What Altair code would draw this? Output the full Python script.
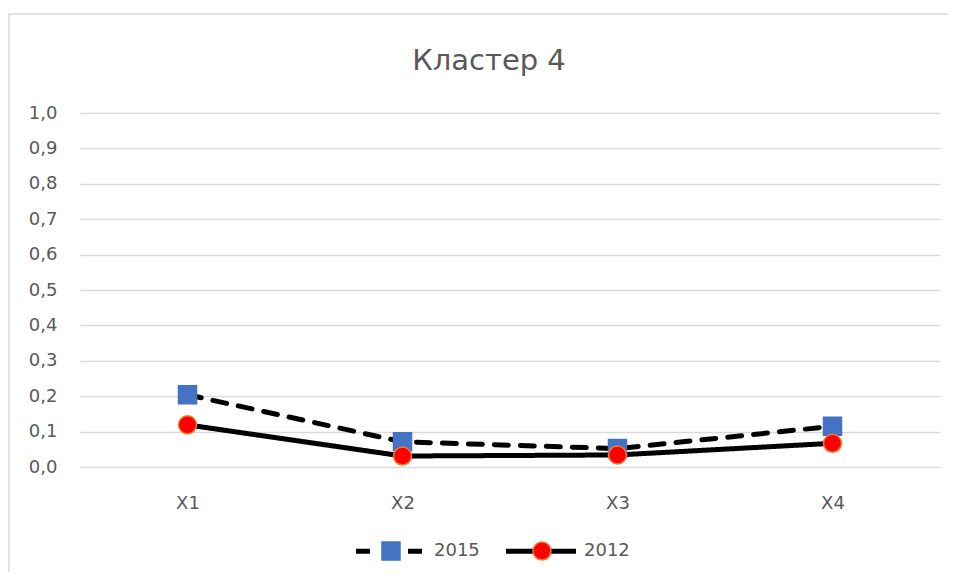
import altair as alt
import pandas as pd

categories = ["X1", "X2", "X3", "X4"]
series_names = ["2015", "2012"]
values_2015 = [0.204, 0.071, 0.052, 0.115]
values_2012 = [0.119, 0.031, 0.034, 0.067]
y_ticks = [0.0, 0.1, 0.2, 0.3, 0.4, 0.5, 0.6, 0.7, 0.8, 0.9, 1.0]

rows = []
for name, vals in zip(series_names, [values_2015, values_2012]):
    for c, v in zip(categories, vals):
        rows.append({"cat": c, "value": v, "Series": name})
df = pd.DataFrame(rows)

FONT = "DejaVu Sans"
GREY = "#595959"

x_enc = alt.X("cat:N", sort=categories, title=None,
              scale=alt.Scale(type="point", padding=0.5),
              axis=alt.Axis(labelAngle=0, domain=False, ticks=False, grid=False,
                            labelPadding=27, labelFontSize=18, labelColor=GREY, labelFont=FONT))
y_enc = alt.Y("value:Q", title=None,
              scale=alt.Scale(domain=[0, 1], nice=False),
              axis=alt.Axis(values=y_ticks, domain=False, ticks=False, grid=True,
                            gridColor="#d9d9d9", gridWidth=1.5,
                            labelExpr="replace(format(datum.value, '.1f'), '.', ',')",
                            labelPadding=23, labelFontSize=18, labelColor=GREY, labelFont=FONT))

base = alt.Chart(df)

lines = base.mark_line(color="black", strokeWidth=5, strokeCap="round", strokeJoin="round").encode(
    x=x_enc, y=y_enc,
    strokeDash=alt.StrokeDash("Series:N", sort=series_names,
                              scale=alt.Scale(range=[[14, 12], [1, 0]]),
                              legend=alt.Legend(orient="none", legendX=273.5, legendY=400.5,
                                                direction="horizontal", title=None,
                                                symbolType="stroke", symbolSize=4900,
                                                symbolStrokeWidth=5, symbolStrokeColor="black",
                                                labelFont=FONT, labelFontSize=18, labelColor=GREY,
                                                labelOffset=5.5, columnPadding=15, padding=0)),
    detail="Series:N",
)


def marker_legend():
    return alt.Legend(orient="none", legendX=273.5 + 27.5, legendY=428,
                      direction="horizontal", title=None,
                      symbolSize=324, symbolStrokeWidth=1.5,
                      labelFont=FONT, labelFontSize=18, labelExpr="''",
                      labelOffset=0, columnPadding=127, padding=0)


points = base.transform_calculate(S2="datum.Series").mark_point(
    filled=True, size=324, strokeWidth=1.5, opacity=1).encode(
    x=x_enc, y=y_enc,
    shape=alt.Shape("S2:N", scale=alt.Scale(domain=series_names, range=["square", "circle"]),
                    legend=marker_legend()),
    fill=alt.Fill("S2:N", scale=alt.Scale(domain=series_names, range=["#4472C4", "#FF0000"]),
                  legend=marker_legend()),
    stroke=alt.Stroke("S2:N", scale=alt.Scale(domain=series_names, range=["#4472C4", "#ED7D31"]),
                      legend=marker_legend()),
)

frame = alt.Chart(pd.DataFrame({"f": [0]})).mark_rect(
    fill=None, stroke="#d9d9d9", strokeWidth=1.5).encode(
    x=alt.value(-71), x2=alt.value(1000), y=alt.value(-99), y2=alt.value(600))

chart = alt.layer(frame, lines, points).properties(
    width=860, height=354,
    title=alt.TitleParams("Кластер 4", fontSize=29, color=GREY, font=FONT, fontWeight="normal",
                          anchor="middle", frame="group", baseline="alphabetic",
                          dx=-21, offset=-86),
    autosize=alt.AutoSizeParams(type="none"),
    padding={"left": 72, "top": 105, "right": 8, "bottom": 105},
).configure_view(stroke=None)

chart.save("out.html", embed_options={"renderer": "svg", "actions": False})
